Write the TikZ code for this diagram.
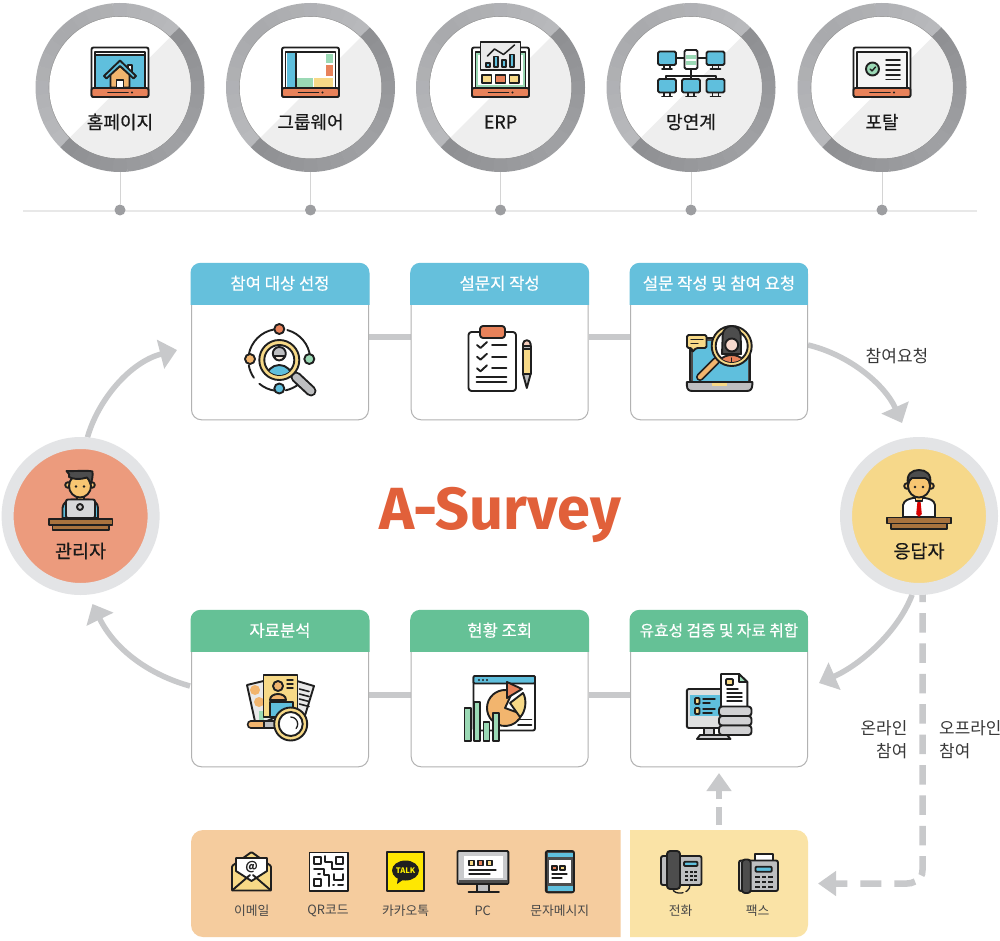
\documentclass[tikz,border=0pt]{standalone}
\usepackage{fontspec}
\setmainfont{Noto Sans CJK KR}
\newfontfamily\krm[FakeBold=0.45]{Noto Sans CJK KR}
\newfontfamily\titlef{Fira Sans}
\usetikzlibrary{arrows.meta,calc,backgrounds}
\definecolor{ink}{HTML}{1F1F1F}
\definecolor{cBlue}{HTML}{5FBFDD}
\definecolor{cOrange}{HTML}{E8825A}
\definecolor{cGreen}{HTML}{9BD9B5}
\definecolor{cYellow}{HTML}{F7D987}
\definecolor{cTan}{HTML}{F2B56E}
\definecolor{cFace}{HTML}{F8C672}
\definecolor{cGray}{HTML}{BDBEC0}
\definecolor{cDark}{HTML}{4D4D4D}
\definecolor{cPaper}{HTML}{E9E9E9}
\definecolor{cBrown}{HTML}{A8733E}
\definecolor{hBlue}{HTML}{65C0DC}
\definecolor{hGreen}{HTML}{65C196}
\definecolor{arrowc}{HTML}{C8C9CB}
\definecolor{ringc}{HTML}{E3E4E6}
\definecolor{admc}{HTML}{EC9B7D}
\definecolor{resc}{HTML}{F6D88A}
\definecolor{panelO}{HTML}{F5CC9E}
\definecolor{panelY}{HTML}{FAE3A6}
\definecolor{dotc}{HTML}{9D9EA1}
\definecolor{titlec}{HTML}{E1603A}
\definecolor{ringLa}{HTML}{B8B9BC}
\definecolor{ringLb}{HTML}{A8A9AC}
\definecolor{ringDa}{HTML}{8F9093}
\definecolor{ringDb}{HTML}{A0A1A4}
\tikzset{
  ic/.style={draw=ink,line width=1.9pt,line join=round,line cap=round},
  toplab/.style={inner sep=0pt,text=black!90,font=\krm\fontsize{18}{20}\selectfont},
  hdrlab/.style={inner sep=0pt,text=white,font=\krm\fontsize{#1}{20}\selectfont},
  cardbox/.style={rectangle,rounded corners=10pt,draw=black!30,line width=1pt,fill=white,minimum width=177pt,minimum height=156pt,inner sep=0pt},
  bigcirc/.style={circle,draw=ringc,line width=12pt,fill=#1,minimum size=146pt,inner sep=0pt},
  smalllab/.style={inner sep=0pt,text=black!72,font=\fontsize{12.8}{15}\selectfont},
  notelab/.style={inner sep=0pt,text=black!78,font=\fontsize{16.9}{23}\selectfont},
  link/.style={draw=arrowc,line width=6pt},
  flow/.style={draw=arrowc,line width=5.5pt,-{Triangle[length=17pt,width=29pt]}},
  dflow/.style={draw=arrowc,line width=6.5pt},
  dhead/.style={-{Triangle[length=18pt,width=24pt]}},
  dotn/.style={circle,fill=dotc,minimum size=11pt,inner sep=0pt},
  ringanch/.style={circle,minimum size=169pt,inner sep=0pt},
}
\newcommand\topring[2]{%
  \node[ringanch] (#2) at (#1,87.5) {};
  \foreach \a in {45,55,...,215}{
    \pgfmathsetmacro\tt{min(100,100*abs(\a+5-135)/85)}
    \draw[ringLa!\tt!ringLb,line width=14pt] (#1,87.5) ++(\a:77.5pt) arc[start angle=\a,end angle=\a+10.4,radius=77.5pt];
  }
  \foreach \a in {225,235,...,395}{
    \pgfmathsetmacro\tt{min(100,100*abs(\a+5-315)/85)}
    \draw[ringDa!\tt!ringDb,line width=14pt] (#1,87.5) ++(\a:77.5pt) arc[start angle=\a,end angle=\a+10.4,radius=77.5pt];
  }
  \fill[black!42] (#1,87.5) circle[radius=71.3pt];
  \fill[white] (#1,87.5) circle[radius=70.7pt];
  \begin{scope}
    \clip (#1,87.5) circle[radius=70.7pt];
    \fill[black!6.5] (#1+90,-2.5) -- (#1-90,177.5) -- (#1+90,177.5) -- cycle;
  \end{scope}
}
\newcommand\tabletbase{%
  \draw[ic,fill=white,rounded corners=2pt] (-28.5,47.5) rectangle (28.5,97);
  \draw[ic] (-25,52) rectangle (25,88);
  \draw[ic,fill=cOrange,rounded corners=2pt] (-28.5,88) rectangle (28.5,97);
  \draw[ic] (-12,92.5) -- (8,92.5);
  \fill[ink] (12,92.5) circle[radius=1.2pt];
}
\newcommand\miniscreen[2]{%
  \begin{scope}[shift={(#1,#2)}]
    \draw[ic,line width=1.7pt] (-3,13.5) -- (-3,17) (3,13.5) -- (3,17) (-5,17.5) -- (5,17.5);
    \draw[ic,fill=cBlue,rounded corners=1.5pt] (-9,0) rectangle (9,13.5);
  \end{scope}
}
\newcommand\card[6]{%
  \node[cardbox] (#1) at (#2,#3) {};
  \begin{scope}
    \clip[rounded corners=10pt] ($(#1.north west)+(-.5,-.5)$) rectangle ($(#1.south east)+(.5,.5)$);
    \fill[#4] ($(#1.north west)+(-1,-1)$) rectangle ($(#1.north east)+(1,41.5)$);
  \end{scope}
  \node[hdrlab=#6] (#1h) at ($(#1.north)+(0,20)$) {#5};
}
\begin{document}
\begin{tikzpicture}[x=1pt,y=-1pt]
\useasboundingbox (0,0) rectangle (1000,941);
\begin{scope}[on background layer]
  \fill[white] (0,0) rectangle (1000,941);
\end{scope}

% ---- timeline
\coordinate (lineL) at (23,211);
\coordinate (lineR) at (977,211);
\draw[black!9,line width=1.5pt] (lineL) -- (lineR);
\foreach \cx/\nm in {120/r1,310.5/r2,500.5/r3,691/r4,882/r5}{
  \topring{\cx}{\nm}
  \node[dotn] (\nm d) at (\cx,210) {};
  \draw[black!17,line width=1pt] (\nm.south) -- (\nm d.north);
}
% home
\begin{scope}[shift={(120,0)}]
  \tabletbase
  \fill[cBlue] (-24,55) rectangle (24,87.3);
  \draw[ic] (-25,55) -- (25,55);
  \draw[ic,line width=1.3pt] (-7,51.8) -- (9,51.8);
  \draw[ic,fill=white] (8,65) rectangle (12,73);
  \draw[ic,fill=cTan] (-9.5,74) -- (0,66) -- (9.5,74) -- (9.5,87.5) -- (-9.5,87.5) -- cycle;
  \draw[ic,fill=cBlue] (-16,76) -- (0,60.5) -- (16,76) -- (13.5,78.5) -- (0,66) -- (-13.5,78.5) -- cycle;
  \draw[ic,fill=white] (-3.5,80) rectangle (3.5,87.5);
\end{scope}
% groupware
\begin{scope}[shift={(310.5,0)}]
  \tabletbase
  \fill[cBlue] (-24,53) rectangle (-15,87.3);
  \draw[ic,line width=1.2pt] (-14.5,52) -- (-14.5,88);
  \fill[cGreen] (15,54) rectangle (22.3,63.5);
  \fill[cOrange] (15,65.5) rectangle (22.3,76);
  \fill[cGreen] (-13.5,78.5) rectangle (2,87);
  \fill[cYellow] (3.5,78.5) rectangle (22.3,87);
\end{scope}
% ERP
\begin{scope}[shift={(500.5,0)}]
  \tabletbase
  \draw[cGreen,line width=2pt] (-23.5,54) rectangle (23.5,86.5);
  \draw[ic,fill=cYellow] (-18.5,75) rectangle (-9,83);
  \draw[ic,fill=cOrange] (-5,75) rectangle (5,83);
  \draw[ic,fill=cYellow] (9,75) rectangle (18.5,83);
  \draw[ic,fill=cPaper] (-20,41.7) rectangle (20,70);
  \draw[ic,line width=1.5pt,fill=cBlue] (-14.5,63) rectangle (-10.5,67);
  \draw[ic,line width=1.5pt,fill=cBlue] (-6.5,56.5) rectangle (-2.5,67);
  \draw[ic,line width=1.5pt,fill=cBlue] (1.5,60) rectangle (5.5,67);
  \draw[ic,line width=1.5pt,fill=cBlue] (9.5,54.5) rectangle (13.5,67);
  \draw[ic,line width=1.5pt] (-13,56) -- (-6,49) -- (3,54.5) -- (14,45);
\end{scope}
% network
\begin{scope}[shift={(691,0)}]
  \draw[ic] (-15,58) -- (16,58) (0,69) -- (0,79) (-25,79) -- (-25,76) -- (25,76) -- (25,79);
  \miniscreen{-24}{51.5}
  \miniscreen{24.5}{51.5}
  \miniscreen{-24}{79}
  \miniscreen{0}{79}
  \miniscreen{24.5}{79}
  \draw[ic,fill=white,rounded corners=1.5pt] (-6.5,50) rectangle (6.5,69);
  \fill[cGreen] (-5.3,55) rectangle (5.3,59);
  \fill[cGreen] (-5.3,61) rectangle (5.3,65);
\end{scope}
% portal
\begin{scope}[shift={(882,0)}]
  \tabletbase
  \fill[cPaper!50] (-24,53) rectangle (24,87);
  \draw[ic,fill=cGreen] (-9.5,69) circle[radius=6.5pt];
  \draw[ic,line width=1.4pt] (-12,69) -- (-10,71) -- (-6.5,67);
  \foreach \yy in {60,65,70,75,79.5}{\draw[ic,line width=1.5pt] (4,\yy) -- (18,\yy);}
\end{scope}
\node[toplab] (t1) at (120,122) {홈페이지};
\node[toplab] (t2) at (310.5,122) {그룹웨어};
\node[toplab] (t3) at (500.5,122) {ERP};
\node[toplab] (t4) at (691,122) {망연계};
\node[toplab] (t5) at (882,122) {포탈};

% ---- cards
\card{c1}{280}{341.8}{hBlue}{참여 대상 선정}{16.6}
\card{c2}{499.7}{341.8}{hBlue}{설문지 작성}{16.6}
\card{c3}{719}{341.8}{hBlue}{설문 작성 및 참여 요청}{16.6}
\card{c4}{280}{688.8}{hGreen}{자료분석}{16.6}
\card{c5}{499.7}{688.8}{hGreen}{현황 조회}{16.6}
\card{c6}{719}{688.8}{hGreen}{유효성 검증 및 자료 취합}{15.7}

\node[bigcirc=admc] (adm) at (80.6,516) {};
\node[bigcirc=resc] (res) at (919,516) {};
\node[toplab,font=\krm\fontsize{18.5}{20}\selectfont] (admt) at (80.6,551) {관리자};
\node[toplab,font=\krm\fontsize{18.5}{20}\selectfont] (rest) at (919,551) {응답자};

\node[inner sep=0pt,text=titlec,font=\titlef\bfseries\fontsize{59.5}{60}\selectfont] (title) at (500,515) {A-Survey};

% panels
\begin{scope}
  \clip (191,830) rectangle (620.7,937);
  \fill[panelO,rounded corners=12pt] (191,830) rectangle (660,937);
\end{scope}
\begin{scope}
  \clip (630,830) rectangle (808,937);
  \fill[panelY,rounded corners=12pt] (600,830) rectangle (808,937);
\end{scope}

% connectors on the background layer
\coordinate (rowT) at (0,337);
\coordinate (rowB) at (0,695);
\coordinate (a1e) at (177,350);
\coordinate (a2s) at (808,345);
\coordinate (a2e) at (902,423);
\coordinate (a3e) at (819,683);
\coordinate (a4s) at (190,686);
\coordinate (a4e) at (92.5,604);
\coordinate (dv) at (922.5,582.6);
\coordinate (dm) at (922.5,870);
\coordinate (dn) at (920.5,877);
\coordinate (dh) at (915,881.5);
\coordinate (dk) at (907,883.5);
\coordinate (de) at (818,883.5);
\coordinate (us) at (719,825);
\coordinate (ue) at (719,773);
\begin{scope}[on background layer]
  \draw[link] (c1.east |- rowT) -- (c2.west |- rowT);
  \draw[link] (c2.east |- rowT) -- (c3.west |- rowT);
  \draw[link] (c4.east |- rowB) -- (c5.west |- rowB);
  \draw[link] (c5.east |- rowB) -- (c6.west |- rowB);
  \draw[flow] (adm.85) .. controls (98,400) and (130,362) .. (a1e);
  \draw[flow] (a2s) .. controls (850,355) and (885,385) .. (a2e);
  \draw[flow] (res.265) .. controls (898,632) and (860,665) .. (a3e);
  \draw[flow] (a4s) .. controls (150,675) and (115,650) .. (a4e);
  \draw[dflow,dash pattern=on 19.5pt off 10.9pt] (dv) -- (dm) .. controls (922.5,873) and (922,875) .. (dn);
  \draw[dflow,dhead,dash pattern=on 21pt off 13pt] (dh) .. controls (912,883) and (910,883.5) .. (dk) -- (de);
  \draw[dflow,dhead,dash pattern=on 18pt off 8pt] (us) -- (ue);
\end{scope}

% ---- labels
\node[notelab,font=\fontsize{17}{20}\selectfont] (n1) at (897,356) {참여요청};
\node[notelab,align=right,anchor=north east] (n2) at (907.5,720.5) {온라인\\참여};
\node[notelab,align=left,anchor=north west] (n3) at (939,720.5) {오프라인\\참여};
\node[smalllab] (b1) at (251.7,911) {이메일};
\node[smalllab] (b2) at (328,911) {QR코드};
\node[smalllab] (b3) at (405.7,911) {카카오톡};
\node[smalllab] (b4) at (482.7,911) {PC};
\node[smalllab] (b5) at (559.7,911) {문자메시지};
\node[smalllab] (b6) at (680.7,911) {전화};
\node[smalllab] (b7) at (757.7,911) {팩스};

% ---- icon: target person
\draw[ic] (279.3,360) ++(75:31pt) arc[start angle=75,end angle=5,radius=31pt];
\draw[ic] (279.3,360) ++(100:31pt) arc[start angle=100,end angle=170,radius=31pt];
\draw[ic] (279.3,360) ++(190:31pt) arc[start angle=190,end angle=215,radius=31pt];
\draw[ic] (279.3,360) ++(230:31pt) arc[start angle=230,end angle=262,radius=31pt];
\draw[ic] (279.3,360) ++(282:31pt) arc[start angle=282,end angle=310,radius=31pt];
\draw[ic,fill=cOrange] (279.3,329) circle[radius=5pt];
\draw[ic,fill=cTan] (250,359) circle[radius=5pt];
\draw[ic,fill=cGreen] (309.3,359) circle[radius=5pt];
\draw[ic,fill=cBlue] (279.3,388.5) circle[radius=5pt];
\draw[draw=ink,line width=11pt,line cap=round] (296,377) -- (311,391);
\draw[cGray,line width=7pt,line cap=round] (296,377) -- (311,391);
\draw[ic,fill=cYellow] (279.3,360) circle[radius=20pt];
\draw[ic,fill=white] (279.3,360) circle[radius=15pt];
\begin{scope}
  \clip (279.3,360) circle[radius=15pt];
  \draw[ic,fill=cBlue] (279.3,378) circle[radius=13pt];
\end{scope}
\draw[ic,fill=cGray] (279.3,353.5) circle[radius=6.5pt];
\draw[ic,fill=white!80!cTan] (274,356) .. controls (275,362) and (283,362) .. (285,356) -- cycle;
% ---- icon: clipboard
\draw[ic,fill=white,rounded corners=3pt] (468.5,332) rectangle (516,391);
\draw[ic,fill=cOrange,rounded corners=3pt] (480,326) rectangle (505,338);
\foreach \yy in {345,356.7,368.3}{
  \draw[ic] (477,\yy) -- (480.5,\yy+3) -- (487,\yy-3);
  \draw[ic] (492,\yy) -- (506.5,\yy);
}
\draw[ic] (476.5,376.7) -- (506.5,376.7) (476.5,381.7) -- (506.5,381.7);
\draw[ic,fill=cOrange!40] (523,346) -- (523,344) arc[start angle=180,end angle=0,radius=3.8pt] -- (530.6,346) -- cycle;
\draw[ic,fill=cYellow] (523,349) rectangle (530.6,374);
\draw[ic,fill=cGray] (523,346) rectangle (530.6,349);
\draw[ic,fill=cGray] (523,374) -- (530.6,374) -- (526.8,388) -- cycle;
% ---- icon: laptop
\draw[ic,fill=cDark,rounded corners=2pt] (690,338) rectangle (750,382);
\fill[cBlue] (692.5,340.5) rectangle (747.5,381);
\draw[ic,fill=cGray] (686.8,382) -- (752.3,382) -- (752.3,385) .. controls (752,390) and (750,391) .. (746,391) -- (693,391) .. controls (689,391) and (687,390) .. (686.8,385) -- cycle;
\fill[cYellow] (712,383) rectangle (727,385.5);
\draw[draw=ink,line width=8pt,line cap=round] (700,377) -- (716,361);
\draw[cTan,line width=4.5pt,line cap=round] (700,377) -- (716,361);
\draw[ic,fill=cYellow] (731.7,346) circle[radius=20pt];
\draw[ic,fill=white] (731.7,346) circle[radius=16pt];
\begin{scope}
  \clip (731.7,346) circle[radius=16pt];
  \draw[ic,fill=cOrange] (731.7,372) circle[radius=17pt];
\end{scope}
\draw[ic,fill=cDark] (731.7,335) ++(180:9pt) arc[start angle=180,end angle=0,radius=9pt] -- (741,354) -- (722,354) -- cycle;
\draw[ic,fill=cOrange!30] (731.7,345) circle[radius=6.5pt];
\draw[ic,line width=1.3pt] (731.7,358) -- (731.7,362);
\draw[ic,fill=cYellow,rounded corners=1.5pt] (687,335) -- (706.5,335) -- (706.5,348) -- (696,348) -- (692,352.5) -- (692,348) -- (687,348) -- cycle;
\draw[ic,line width=1.3pt] (691,339.5) -- (703,339.5) (691,343.5) -- (698,343.5);
% ---- icon: admin
\draw[ic,fill=cBlue] (62.5,518) -- (62.5,508) .. controls (63,503) and (67,500) .. (72,499.5) -- (88,499.5) .. controls (94,500) and (98,503) .. (98,508) -- (98,518) -- cycle;
\draw[ic,fill=cFace] (77,494) rectangle (84,502);
\draw[ic,fill=cFace] (68,485) circle[radius=2.8pt];
\draw[ic,fill=cFace] (92,485) circle[radius=2.8pt];
\draw[ic,fill=cFace] (80,486) ellipse[x radius=11pt,y radius=11.5pt];
\draw[ic,fill=cDark] (66.5,471) .. controls (73,471.5) and (88,470) .. (92.5,471.5) .. controls (93,476) and (92,481) .. (90.5,484) .. controls (89,481) and (89,479) .. (87,477.5) .. controls (80,480) and (72,479) .. (69,477) .. controls (70,475.5) and (69,473) .. (66.5,471) -- cycle;
\fill[ink] (76,486.5) circle[radius=1.3pt] (84,486.5) circle[radius=1.3pt];
\draw[ic,fill=cGray!60,rounded corners=2pt] (66,499.5) rectangle (95,518);
\draw[ic,fill=cDark!30] (80,507) circle[radius=3pt];
\draw[ic,fill=cBrown] (49,519) rectangle (112.5,525);
\draw[ic,fill=cBrown] (52.5,525) rectangle (109,530);
% ---- icon: respondent
\draw[ic,fill=white] (903,517) -- (903,505) .. controls (904,500) and (909,499) .. (913,498) -- (925,498) .. controls (930,499) and (934,500) .. (935,505) -- (935,517) -- cycle;
\fill[red!85!black] (917.5,501) -- (920.5,501) -- (921.8,514) -- (919,517) -- (916.2,514) -- cycle;
\draw[ic,fill=cFace] (915.5,494) rectangle (922.5,501);
\draw[ic,fill=cFace] (907,486) circle[radius=2.8pt];
\draw[ic,fill=cFace] (931,486) circle[radius=2.8pt];
\draw[ic,fill=cFace] (919,486) ellipse[x radius=11pt,y radius=11.5pt];
\draw[ic,fill=cDark] (908,484) .. controls (906,474) and (912,470) .. (919,470) .. controls (926,470) and (932,474) .. (930,484) .. controls (929,480) and (927,478) .. (925,478) -- (912,478) .. controls (910,479) and (909,481) .. (908,484) -- cycle;
\fill[ink] (915,487) circle[radius=1.3pt] (923,487) circle[radius=1.3pt];
\draw[ic,fill=cBrown] (887,517.5) rectangle (951,523.5);
\draw[ic,fill=cBrown] (891,523.5) rectangle (947,529);
% ---- icon: documents
\draw[ic,fill=cPaper] (247,685) -- (263.5,681) -- (278,716) -- (256,726) -- cycle;
\fill[cTan] (255,690) circle[radius=5pt];
\fill[cTan] (259,702) circle[radius=5pt];
\fill[cGreen] (259,711) rectangle (264,721);
\draw[ic,fill=cPaper] (297,681) -- (314,686) -- (303,722) -- (297,722) -- cycle;
\foreach \yy in {689,694,699,704}{\draw[ic,line width=1.6pt] (299.5,\yy) -- (309,\yy+2.5);}
\draw[ic,fill=cYellow] (263.5,675) rectangle (297.5,717);
\draw[ic,fill=cTan] (270,700) .. controls (270,692) and (286,692) .. (286,700) -- cycle;
\draw[ic,fill=cTan] (278,686) circle[radius=5pt];
\draw[ic,line width=1.4pt] (287,680) -- (293,680) (287,684) -- (293,684) (287,688) -- (293,688);
\draw[ic,fill=cBlue] (270,702) rectangle (293,717);
\draw[draw=ink,line width=8.5pt,line cap=round] (251,724.5) -- (264,724.5);
\draw[cTan,line width=5pt,line cap=round] (251,724.5) -- (264,724.5);
\draw[ic,fill=cGray] (264,721) rectangle (275,728);
\draw[ic,fill=cYellow] (290.7,724) circle[radius=16.5pt];
\draw[ic,fill=white] (290.7,724) circle[radius=12pt];
\draw[ic,line width=1.3pt] (290.7,717) arc[start angle=90,end angle=-40,radius=7pt];
% ---- icon: charts
\draw[ic,fill=white,rounded corners=2pt] (473.5,676) rectangle (535,730.5);
\draw[ic,fill=cBlue,rounded corners=1pt] (473.5,676) rectangle (535,683.5);
\fill[ink] (479,680) circle[radius=1.2pt] (483,680) circle[radius=1.2pt] (487,680) circle[radius=1.2pt];
\draw[ic,fill=cTan] (505,708) ++(65:18pt) arc[start angle=65,end angle=340,radius=18pt] -- (505,708) -- cycle;
\draw[ic,fill=cYellow] (510,703) -- (523,693) .. controls (527,699) and (526,712) .. (520,717) -- cycle;
\draw[ic,fill=cOrange] (507,682) -- (522,689) -- (507,698) -- cycle;
\draw[ic] (518,719.5) -- (531.5,719.5) (518,725) -- (531.5,725);
\draw[ic,fill=cGreen] (464.5,708) rectangle (470.7,741);
\draw[ic,fill=cGreen] (474,701.7) rectangle (480,741);
\draw[ic,fill=cGreen] (483.5,721.7) rectangle (489.5,741);
\draw[ic,fill=cGreen] (492.7,713) rectangle (498.7,741);
% ---- icon: records
\draw[ic,fill=cGray!70] (704,728) rectangle (714,735);
\draw[ic,fill=cGray!70] (700,735) -- (727,735) -- (730.5,739) -- (697,739) -- cycle;
\draw[ic,fill=cGray!50,rounded corners=2pt] (686.8,689) rectangle (723,728);
\fill[cBlue] (690,695) rectangle (721,716);
\draw[ic,fill=cYellow,rounded corners=1pt] (695,698) rectangle (699.5,704);
\draw[ic,fill=cYellow,rounded corners=1pt] (695,708) rectangle (699.5,714);
\draw[ic,line width=1.4pt] (703,699) -- (715,699) (703,703) -- (710,703) (703,709) -- (715,709) (703,713) -- (712,713);
\draw[ic,fill=white] (721,674) -- (739,674) -- (747.3,682) -- (747.3,708) -- (721,708) -- cycle;
\draw[ic,fill=cGreen] (739,674) -- (739,682) -- (747.3,682) -- cycle;
\draw[ic,fill=cYellow,rounded corners=1pt] (726,679) rectangle (733,685);
\draw[ic,line width=1.4pt] (727,689) -- (738,689) (727,693) -- (742,693) (727,697) -- (742,697) (727,701) -- (742,701);
\foreach \yy in {706.5,716,725.5}{
  \draw[ic,fill=cGray!70,rounded corners=3pt] (719,\yy) rectangle (751.5,\yy+9.5);
}
% ---- icon: phone
\draw[ic,line width=1.3pt,dash pattern=on 12pt off 3pt] (673,889) .. controls (673,895) and (690,895) .. (690,885);
\draw[ic,fill=cGray,rounded corners=2pt] (661,856) rectangle (701.5,885);
\draw[ic,fill=cDark,rounded corners=3pt] (667,851) rectangle (680,889);
\draw[ic,fill=cBlue,rounded corners=1pt] (684,861.7) rectangle (697.5,866);
\foreach \xx in {685,689.5,694}{\foreach \yy in {871,875,879}{\fill[ink] (\xx,\yy) rectangle (\xx+3,\yy+2);}}
% ---- icon: fax
\draw[ic,fill=white] (755,854) rectangle (772.7,862);
\draw[ic,fill=cGray,rounded corners=2pt] (739,860.5) rectangle (778,891);
\draw[ic,fill=cDark,rounded corners=3pt] (742,859.5) rectangle (750.7,893);
\draw[ic,fill=cBlue,rounded corners=1pt] (755.5,866.7) rectangle (771.7,871.7);
\foreach \xx in {755,761.5,768}{\foreach \yy in {876,881,886}{\fill[ink] (\xx,\yy) rectangle (\xx+4.5,\yy+2.4);}}
% ---- icon: mail
\draw[ic,fill=cYellow,rounded corners=1pt] (232,866) -- (232,890.5) -- (271,890.5) -- (271,866) -- (251.5,852) -- cycle;
\draw[ic,fill=white] (236,858) -- (267,858) -- (267,871) -- (251.5,881) -- (236,871) -- cycle;
\draw[ic] (232,890.5) -- (250,875) (271,890.5) -- (253,875);
\node[inner sep=0pt,text=ink,font=\bfseries\fontsize{12}{12}\selectfont] (mailat) at (251.5,867.5) {@};
% ---- icon: QR
\draw[ic,fill=white] (309.5,852.5) rectangle (347.7,890.7);
\draw[ic,line width=2pt] (314,856.5) rectangle (321,863.5) (336,856.5) rectangle (343,863.5) (314,878.5) rectangle (321,885.5);
\draw[ic,line width=2pt] (325,856) -- (325,862) -- (332,862) -- (332,869) -- (343,869) (314,869) -- (324,869) -- (324,875) -- (329,875) -- (329,886) (334,874) -- (334,880) -- (343,880) -- (343,874) (338,885) -- (343,885) (318,873.5) -- (320,873.5) (333,885) -- (334,885);
% ---- icon: talk
\fill[yellow!95!red] (386.7,852.3) rectangle (424.3,890.7);
\draw[ic] (386.7,852.3) rectangle (424.3,890.7);
\fill[ink] (405.5,870.5) ellipse[x radius=13.5pt,y radius=10pt] (398,877) -- (397,884) -- (404,879) -- cycle;
\node[inner sep=0pt,text=yellow,font=\bfseries\fontsize{7.6}{8}\selectfont] (talk) at (405.5,870.5) {TALK};
% ---- icon: PC
\draw[ic,fill=cGray] (477,884) rectangle (489,892);
\draw[ic] (468.5,892) -- (499,892);
\draw[ic,fill=cGray!80,rounded corners=1pt] (457.5,851) rectangle (508.3,884);
\fill[cDark] (458.5,879.5) rectangle (507.5,883);
\fill[white] (463.5,855.5) rectangle (502.5,878);
\draw[ic,line width=1.3pt,fill=cYellow] (469,860.5) rectangle (474,865.5);
\draw[ic,line width=1.3pt,fill=cOrange] (478,860.5) rectangle (483,865.5);
\draw[ic,line width=1.3pt,fill=cYellow] (487,860.5) rectangle (492,865.5);
\draw[ic,line width=1.3pt] (469,870) -- (496,870) (469,874) -- (490,874);
% ---- icon: tablet
\draw[ic,fill=cDark,rounded corners=2pt] (545.8,851) rectangle (574,892.3);
\fill[cBlue] (547.5,853) rectangle (572.5,857);
\fill[cBlue] (547.5,886) rectangle (572.5,890.5);
\fill[white] (549,860) rectangle (571,883);
\draw[ic,line width=1.3pt,fill=cOrange] (552,866) rectangle (557,870);
\draw[ic,line width=1.3pt,fill=cYellow] (560,866) rectangle (565,870);
\draw[ic,line width=1.3pt] (552,874) -- (567,874) (552,878) -- (562,878);
\end{tikzpicture}
\end{document}
